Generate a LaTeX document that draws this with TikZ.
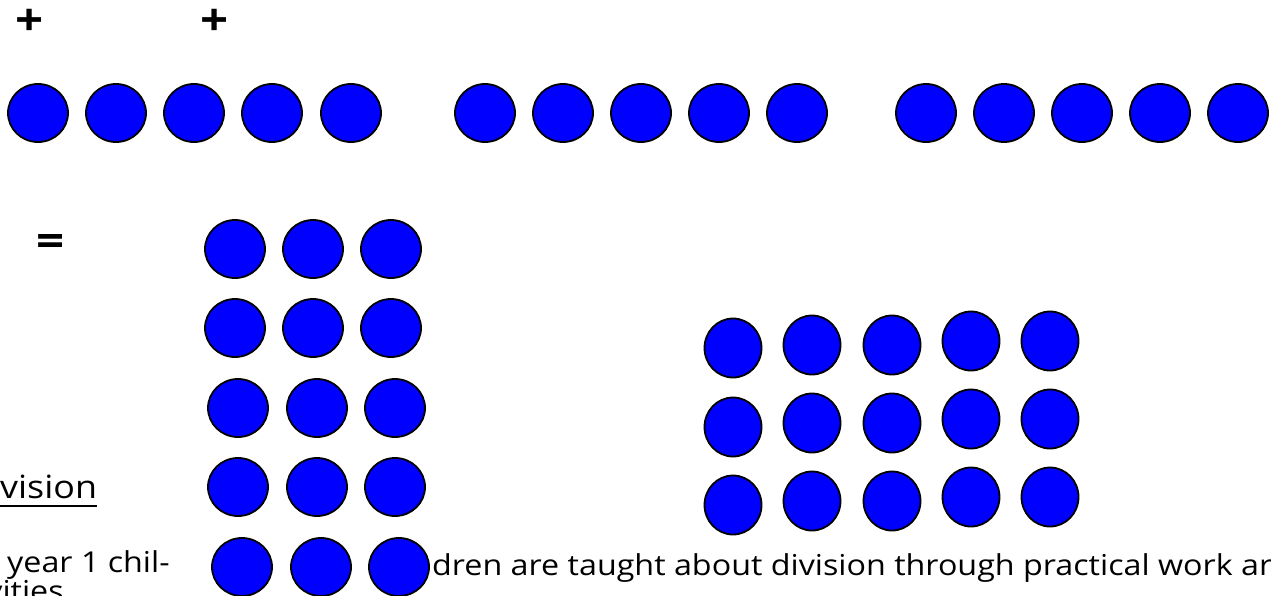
\documentclass[tikz,border=0pt]{standalone}
\usepackage{fontspec}
\setmainfont{Open Sans}[FakeStretch=1.12]
\usetikzlibrary{shapes.geometric}
\begin{document}
\begin{tikzpicture}[x=1pt,y=-1pt,
  dot/.style={ellipse, draw=black, fill=blue, line width=1.8pt, inner sep=0pt,
              minimum width=60pt, minimum height=58pt},
  rdot/.style={dot, minimum width=57pt, minimum height=59pt},
  sym/.style={inner sep=0pt, font=\fontsize{44}{44}\selectfont\bfseries},
  body/.style={inner sep=0pt, anchor=base west, font=\fontsize{28.8}{31}\selectfont},
  head/.style={inner sep=0pt, anchor=base west, font=\fontsize{32}{36}\selectfont}]
\useasboundingbox (0,0) rectangle (1271,595);
\clip (0,0) rectangle (1271,595);
% symbols
\node[sym] (plusA) at (30,22) {+};
\node[sym] (plusB) at (215,22) {+};
\node[sym] (eq) at (51,245) {=};
% top row: three groups of five
\foreach \x [count=\i] in {38,116,194,272,351} \node[dot] (a\i) at (\x,113) {};
\foreach \x [count=\i] in {485,563,641,719,797} \node[dot] (b\i) at (\x,113) {};
\foreach \x [count=\i] in {926,1004,1082,1160,1238} \node[dot] (c\i) at (\x,113) {};
% left grid 3 x 5
\foreach \x [count=\i] in {235,313,391} \node[dot] (l1\i) at (\x,249) {};
\foreach \x [count=\i] in {235,313,391} \node[dot] (l2\i) at (\x,328) {};
\foreach \x [count=\i] in {238,317,395} \node[dot] (l3\i) at (\x,408) {};
\foreach \x [count=\i] in {238,317,395} \node[dot] (l4\i) at (\x,487) {};
\foreach \x [count=\i] in {242,321,399} \node[dot] (l5\i) at (\x,567) {};
% right grid 5 x 3
\foreach \x/\y [count=\i] in {733/348,812/345,892/345,971/341,1050/341} \node[rdot] (r1\i) at (\x,\y) {};
\foreach \x/\y [count=\i] in {733/427,812/423,892/423,971/419,1050/419} \node[rdot] (r2\i) at (\x,\y) {};
\foreach \x/\y [count=\i] in {733/505,812/501,892/501,971/497,1050/497} \node[rdot] (r3\i) at (\x,\y) {};
% texts
\node[head] (hd) at (0,498) {vision};
\draw[line width=2.6pt] ([yshift=-8pt]hd.base west) -- ([yshift=-8pt]hd.base east);
\node[body] (t1) at (7,572) {year 1 chil-};
\node[body] (t2) at (-22,601) {ivities};
\node[body] (t3) at (432,575) {dren are taught about division through practical work ar};
\end{tikzpicture}
\end{document}
